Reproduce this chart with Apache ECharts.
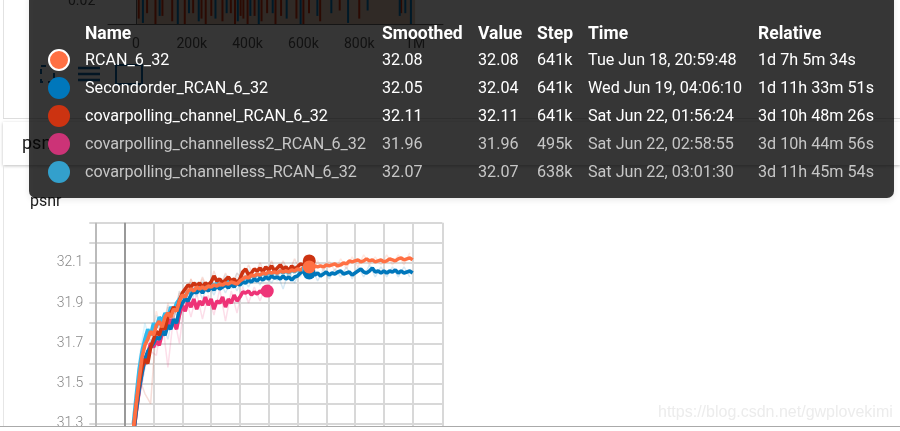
<!DOCTYPE html>
<html>
<head>
<meta charset="utf-8">
<style>html,body{margin:0;padding:0;background:#fff}#c{width:900px;height:431px}</style>
<script src="https://cdn.jsdelivr.net/npm/echarts@6/dist/echarts.min.js"></script>
</head>
<body>
<div id="c"></div>
<script>
// ---- tooltip table ----
const runNames = ['RCAN_6_32','Secondorder_RCAN_6_32','covarpolling_channel_RCAN_6_32','covarpolling_channelless2_RCAN_6_32','covarpolling_channelless_RCAN_6_32'];
const runColors = ['#ff7043','#0077bb','#cc3311','#ee3377','#33bbee'];
const dotColors = ['#ff7043','#0077bb','#cc3311','#cc3377','#33a0cc'];
const smoothedVals = [32.08,32.05,32.11,31.96,32.07];
const rawVals = ['32.08','32.04','32.11','31.96','32.07'];
const hoverSteps = [641,641,641,495,638];
const timeLabels = ['Tue Jun 18, 20:59:48','Wed Jun 19, 04:06:10','Sat Jun 22, 01:56:24','Sat Jun 22, 02:58:55','Sat Jun 22, 03:01:30'];
const relativeLabels = ['1d 7h 5m 34s','1d 11h 33m 51s','3d 10h 48m 26s','3d 10h 44m 56s','3d 11h 45m 54s'];
const tableHeaders = ['Name','Smoothed','Value','Step','Time','Relative'];

// ---- axes ----
const xGridValues = [-100,0,100,200,300,400,500,600,700,800,900,1000,1103];
const yTickLabels = ['31.3','31.5','31.7','31.9','32.1'];
const topTicks = [0,200,400,600,800,1000];
const topTickLabels = ['0','200k','400k','600k','800k','1M'];

// ---- smoothed curves, step in thousands ----
const steps = [30,40,50,60,70,80,90,100,110,120,130,140,150,160,170,180,190,200,210,220,230,240,250,260,270,280,290,300,310,320,330,340,350,360,370,380,390,400,410,420,430,440,450,460,470,480,490,500,510,520,530,540,550,560,570,580,590,600,610,620,630,640,650,660,670,680,690,700,710,720,730,740,750,760,770,780,790,800,810,820,830,840,850,860,870,880,890,900,910,920,930,940,950,960,970,980,990,1000];
const rcan = [31.27,31.40,31.52,31.63,31.69,31.72,31.76,31.74,31.79,31.81,31.78,31.83,31.85,31.83,31.87,31.86,31.91,31.94,31.93,31.96,31.97,31.96,31.98,31.97,31.98,31.97,31.985,31.98,31.99,31.985,31.995,31.99,32.0,31.995,32.005,32.0,31.995,32.01,32.02,32.03,32.025,32.04,32.035,32.045,32.04,32.05,32.045,32.055,32.05,32.055,32.05,32.06,32.055,32.06,32.055,32.065,32.06,32.07,32.065,32.075,32.085,32.08,32.075,32.085,32.08,32.085,32.08,32.09,32.085,32.09,32.095,32.085,32.09,32.10,32.095,32.11,32.105,32.11,32.115,32.105,32.11,32.12,32.11,32.115,32.105,32.11,32.115,32.105,32.11,32.12,32.115,32.11,32.12,32.125,32.115,32.12,32.125,32.115];
const secondorder = [31.24,31.36,31.47,31.55,31.62,31.66,31.68,31.70,31.73,31.72,31.76,31.74,31.79,31.77,31.82,31.80,31.87,31.90,31.92,31.91,31.94,31.96,31.95,31.97,31.95,31.975,31.96,31.98,31.965,31.985,31.97,31.98,31.99,31.975,31.995,31.98,32.0,31.99,32.005,32.0,32.015,32.005,32.02,32.01,32.025,32.015,32.03,32.02,32.035,32.025,32.03,32.02,32.035,32.02,32.03,32.015,32.03,32.035,32.05,32.06,32.045,32.05,32.06,32.04,32.05,32.035,32.045,32.055,32.04,32.05,32.045,32.055,32.06,32.045,32.05,32.055,32.04,32.05,32.06,32.07,32.055,32.05,32.06,32.075,32.055,32.06,32.05,32.06,32.05,32.06,32.055,32.065,32.05,32.06,32.05,32.055,32.06,32.05];
const channel = [31.26,31.39,31.50,31.58,31.62,31.60,31.68,31.72,31.76,31.74,31.79,31.77,31.83,31.85,31.88,31.86,31.91,31.95,31.97,31.99,31.98,32.0,31.985,32.0,31.98,32.0,31.99,32.005,32.035,32.01,32.02,32.0,32.015,32.03,32.01,32.02,32.0,32.02,32.055,32.07,32.04,32.05,32.07,32.06,32.075,32.055,32.08,32.065,32.085,32.06,32.075,32.09,32.07,32.08,32.06,32.085,32.07,32.08,32.095,32.09,32.105,32.11];
const channelless2 = [31.24,31.36,31.46,31.56,31.62,31.65,31.70,31.68,31.71,31.69,31.75,31.80,31.78,31.82,31.80,31.77,31.84,31.89,31.86,31.91,31.88,31.92,31.87,31.91,31.89,31.93,31.89,31.92,31.87,31.91,31.90,31.93,31.88,31.92,31.90,31.94,31.91,31.93,31.955,31.95,31.96,31.94,31.955,31.945,31.96,31.95,31.96];
const channelless = [31.30,31.44,31.57,31.66,31.72,31.77,31.74,31.80,31.78,31.83,31.81,31.85,31.83,31.88,31.86,31.90,31.92,31.94,31.93,31.96,31.95,31.97,31.96,31.98,31.97,31.99,31.98,32.0,31.985,32.0,31.99,32.005,31.995,32.01,32.0,32.01,32.0,32.02,32.015,32.03,32.02,32.04,32.03,32.045,32.035,32.05,32.04,32.05,32.045,32.055,32.05,32.06,32.05,32.06,32.05,32.065,32.055,32.07,32.06,32.07,32.07];

// ---- raw values, faint band behind each curve ----
const rawSteps = [30,50,70,90,110,130,150,170,190,210,230,250,270,290,310,330,350,370,390,410,430,450,470,490,510,530,550,570,590,610,630,650,670,690,710,730,750,770,790,810,830,850,870,890,910,930,950,970,990];
const rcanRaw = [31.25,31.55,31.75,31.72,31.86,31.74,31.90,31.82,31.96,31.90,32.02,31.95,32.02,31.95,32.03,31.97,32.03,31.98,32.03,32.0,32.06,32.01,32.07,32.02,32.08,32.03,32.09,32.03,32.09,32.04,32.11,32.05,32.11,32.06,32.11,32.06,32.12,32.07,32.13,32.08,32.14,32.09,32.13,32.09,32.14,32.09,32.14,32.09,32.15];
const secondorderRaw = [31.2,31.43,31.58,31.72,31.68,31.80,31.72,31.86,31.82,31.96,31.89,31.99,31.92,32.0,31.94,32.01,31.95,32.02,31.96,32.03,31.98,32.04,31.99,32.05,32.0,32.05,31.97,32.06,32.0,32.07,32.02,32.08,32.01,32.07,32.02,32.07,32.03,32.08,32.02,32.08,32.03,32.09,32.03,32.08,32.03,32.08,32.03,32.08,32.03];
const channelRaw = [31.22,31.53,31.45,31.40,31.80,31.72,31.88,31.82,31.95,31.92,32.02,31.95,32.03,31.96,32.06,31.98,32.05,31.98,32.05,32.02,32.09,32.03,32.10,32.04,32.11,32.04,32.11,32.05,32.12,32.06,32.14];
const channelless2Raw = [31.2,31.42,31.58,31.66,31.64,31.82,31.58,31.84,31.70,31.94,31.83,31.95,31.82,31.94,31.84,31.97,31.81,31.96,31.85,31.98,31.90,31.98,31.91,31.99];
const channellessRaw = [31.32,31.62,31.80,31.70,31.84,31.76,31.89,31.82,31.96,31.90,32.0,31.93,32.01,31.95,32.03,31.96,32.04,31.97,32.05,31.98,32.07,32.0,32.08,32.01,32.08,32.01,32.09,32.02,32.09,32.03,32.10];

// ---- bars of the chart above, mostly hidden by the tooltip ----
const topRedSteps = [10,40,70,95,130,175,205,235,250,270,310,340,355,375,385,400,425,450,470,500,520,575,600,620,660,730,800,950];
const topRedVals = [.9,.8,1,.85,.95,1,.8,.9,1,.85,.95,.8,1,.85,.9,1,.85,.95,.8,1,.85,.9,1,.8,.95,.75,.9,.8];
const topBlueSteps = [25,85,150,190,225,285,325,365,410,440,490,540,590,650,700,760,830,945,965,985];
const topBlueVals = [.98,.85,1,.8,.95,.9,.8,.95,.85,1,.8,.9,1,.85,.8,.98,.75,.85,.8,1];

const zip = (xs, ys) => ys.map((y, i) => [xs[i], y]);
const curves = [
  {i:4, s:channelless, r:channellessRaw},
  {i:3, s:channelless2, r:channelless2Raw},
  {i:1, s:secondorder, r:secondorderRaw},
  {i:2, s:channel, r:channelRaw},
  {i:0, s:rcan, r:rcanRaw}
];
const series = [];
curves.forEach(c => {
  series.push({name:runNames[c.i]+' raw', type:'line', xAxisIndex:0, yAxisIndex:0, data:zip(rawSteps,c.r), showSymbol:false, silent:true,
    lineStyle:{color:runColors[c.i], width:1.5, opacity:.16}, z:2});
});
curves.forEach((c,k) => {
  series.push({name:runNames[c.i], type:'line', xAxisIndex:0, yAxisIndex:0, data:zip(steps,c.s), showSymbol:false, silent:true,
    lineStyle:{color:runColors[c.i], width:3.6}, z:3+k});
});
curves.forEach((c,k) => {
  series.push({name:runNames[c.i]+' hover', type:'scatter', xAxisIndex:0, yAxisIndex:0, data:[[hoverSteps[c.i], smoothedVals[c.i]]], symbolSize:13, silent:true,
    itemStyle:{color:runColors[c.i], opacity:1}, z:10+k});
});
series[0].markLine = {silent:true, symbol:'none', label:{show:false}, animation:false,
  data:[{xAxis:0, lineStyle:{color:'#999',width:2,type:'solid',opacity:1}},{xAxis:-100, lineStyle:{color:'#bbb',width:2,type:'solid',opacity:1}}]};
series.push({type:'bar', xAxisIndex:1, yAxisIndex:1, data:zip(topRedSteps,topRedVals), barWidth:2, barGap:'-100%', itemStyle:{color:'#cc3311'}, silent:true, z:2,
  markArea:{silent:true, itemStyle:{color:'rgba(225,195,175,.9)'}, data:[[{xAxis:5},{xAxis:1000}]]}});
series.push({type:'bar', xAxisIndex:1, yAxisIndex:1, data:zip(topBlueSteps,topBlueVals), barWidth:2, barGap:'-100%', itemStyle:{color:'#0077bb'}, silent:true, z:2});

// ---- page furniture and tooltip ----
const font = '16.15px Roboto, sans-serif';
const bold = 'bold 17.5px Roboto, sans-serif';
const colX = [85,382,478,537,588,758];
const rowY = [60.5,88.5,116.5,144.5,172.5];
const g = [];
const txt = (text,x,y,f,fill,z) => g.push({type:'text', z:z, silent:true, style:{text,x,y,font:f,fill,verticalAlign:'middle'}});
const ln = (x1,y1,x2,y2,c,w,z) => g.push({type:'line', z:z, silent:true, shape:{x1,y1,x2,y2}, style:{stroke:c,lineWidth:w}});
ln(3.5,0,3.5,118,'#e2e2e2',1,-2);
ln(3,118.5,900,118.5,'#dddddd',1,-2);
g.push({type:'rect', z:-2, silent:true, shape:{x:3,y:122,width:897,height:43}, style:{fill:'#fff',shadowBlur:3,shadowColor:'rgba(0,0,0,.25)',shadowOffsetY:1}});
ln(3.5,165,3.5,426,'#e6e6e6',1,-2);
txt('psnr',22,144,'18px Roboto, sans-serif','#222',-1);
txt('psnr',30,202,'16px Roboto, sans-serif','#222',-1);
txt('0.02',68,1,'14px Roboto, sans-serif','#555',-1);
// icons under the tooltip
g.push({type:'rect', z:-1, silent:true, shape:{x:41,y:66,width:13,height:16}, style:{fill:'none',stroke:'#0a66a8',lineWidth:2,lineDash:[5,5]}});
[68,74,80].forEach(y => ln(78,y,100,y,'#0a66a8',2.5,-1));
g.push({type:'rect', z:-1, silent:true, shape:{x:116,y:65,width:26,height:19}, style:{fill:'none',stroke:'#0a66a8',lineWidth:2}});
// bottom edge
g.push({type:'rect', z:50, silent:true, shape:{x:0,y:426,width:900,height:5}, style:{fill:'#fff'}});
ln(0,426.5,900,426.5,'#aaaaaa',1,51);
txt('https://blog.csdn.net/gwplovekimi',658,413,'16px "Liberation Sans", sans-serif','#ececec',52);
// tooltip box
g.push({type:'rect', z:100, silent:true, shape:{x:29,y:-8,width:865,height:206,r:7}, style:{fill:'rgba(0,0,0,.77)',shadowBlur:6,shadowColor:'rgba(0,0,0,.12)',shadowOffsetY:2}});
tableHeaders.forEach((h,i) => txt(h,colX[i],35,bold,'#fff',101));
runNames.forEach((n,i) => {
  const c = i<3 ? '#ffffff' : '#c6c6c6';
  const y = rowY[i];
  g.push({type:'circle', z:101, silent:true, shape:{cx:59,cy:Math.round(y-.5),r:i===0?10:11}, style:{fill:dotColors[i],stroke:i===0?'#fff':null,lineWidth:i===0?2:0}});
  txt(n,colX[0],y,font,c,101);
  txt(smoothedVals[i].toFixed(2),colX[1],y,font,c,101);
  txt(rawVals[i],colX[2],y,font,c,101);
  txt(hoverSteps[i]+'k',colX[3],y,font,c,101);
  txt(timeLabels[i],colX[4],y,font,c,101);
  txt(relativeLabels[i],colX[5],y,font,c,101);
});

const chart = echarts.init(document.getElementById('c'), null, {renderer:'canvas'});
chart.setOption({
  animation:false,
  backgroundColor:'#fff',
  grid:[
    {left:89.3, top:222.7, width:353, height:221.1, show:false, outerBoundsMode:'none'},
    {left:108, top:-30, width:335, height:54, show:false, outerBoundsMode:'none'}
  ],
  xAxis:[
    {type:'value', gridIndex:0, min:-123, max:1103, axisLine:{show:false},
     axisTick:{show:false, customValues:xGridValues}, axisLabel:{show:false, customValues:xGridValues},
     splitLine:{show:true, lineStyle:{color:'#d8d8d8', width:2}}},
    {type:'value', gridIndex:1, min:-100, max:1100, axisLine:{show:true, onZero:false, lineStyle:{color:'#666'}},
     axisTick:{show:false, customValues:topTicks},
     axisLabel:{customValues:topTicks, margin:13, fontSize:14, color:'#555', fontFamily:'Roboto',
       formatter:v => topTickLabels[topTicks.indexOf(v)]},
     splitLine:{show:false}}
  ],
  yAxis:[
    {type:'value', gridIndex:0, min:31.2, max:32.3, interval:0.1, axisLine:{show:false}, axisTick:{show:false},
     axisLabel:{margin:6, fontSize:14, color:'#888', fontFamily:'Roboto', fontWeight:300,
       formatter:v => yTickLabels.includes(v.toFixed(1)) ? v.toFixed(1) : ''},
     splitLine:{show:true, lineStyle:{color:'#d8d8d8', width:2}}},
    {type:'value', gridIndex:1, min:0, max:1, inverse:true, axisLine:{show:true, lineStyle:{color:'#666'}}, axisTick:{show:false}, axisLabel:{show:false}, splitLine:{show:false}}
  ],
  series:series,
  graphic:{elements:g}
});
</script>
</body>
</html>
